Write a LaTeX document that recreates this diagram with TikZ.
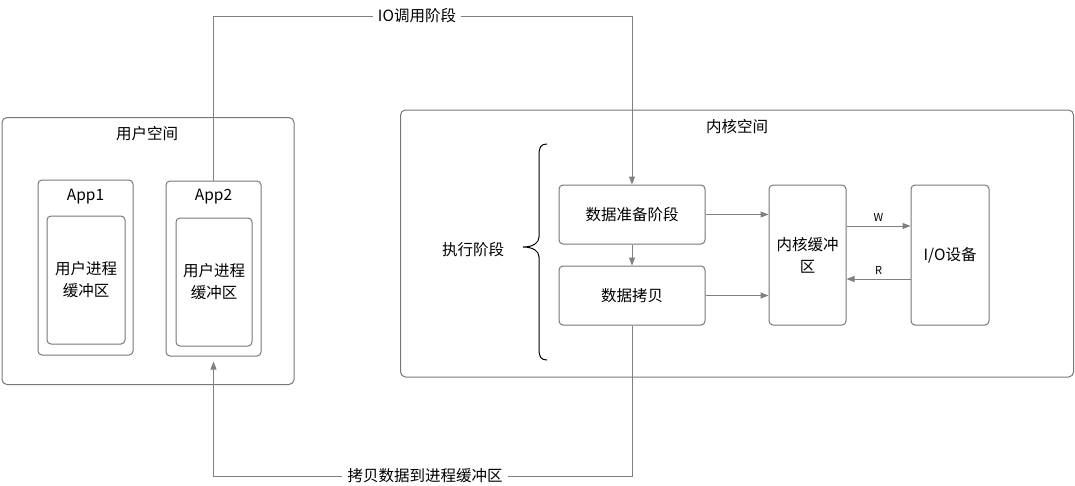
\documentclass[tikz,border=0pt]{standalone}
\usepackage{fontspec}
\setmainfont{Noto Sans CJK SC}
\usetikzlibrary{arrows.meta,positioning}
\definecolor{ink}{HTML}{000000}
\definecolor{edge}{HTML}{777777}
\definecolor{wire}{HTML}{808080}
\tikzset{
  box/.style={draw=edge, rounded corners=4pt, line width=1pt, inner sep=0pt, align=center, font=\fontsize{15.5}{22}\selectfont, text=ink},
  panel/.style={box, rounded corners=5pt},
  title/.style={font=\fontsize{15.5}{18}\selectfont, text=ink},
  note/.style={font=\fontsize{15.5}{18}\selectfont, text=ink, fill=white, inner sep=5pt},
  tiny/.style={font=\fontsize{11}{12}\selectfont, text=ink},
  arrow/.style={-{Triangle[length=8pt,width=6pt]}, line width=1pt, draw=wire},
  wire/.style={line width=1pt, draw=wire}
}

\begin{document}
\begin{tikzpicture}[x=1pt,y=-1pt]
\useasboundingbox (0,0) rectangle (1075,485);
% user space
\node[panel, minimum width=292, minimum height=267] (user) at (148,251) {};
\node[title] (usertitle) at (147,134) {用户空间};
\node[box, minimum width=95, minimum height=175] (app1) at (85.5,267.5) {};
\node[title] (app1lbl) at (85.5,197) {App1};
\node[box, minimum width=78, minimum height=128] (buf1) at (86,280) {用户进程\\缓冲区};
\node[box, minimum width=95, minimum height=175] (app2) at (213.5,268.5) {};
\node[title] (app2lbl) at (213.5,197) {App2};
\node[box, minimum width=76, minimum height=128] (buf2) at (214,282) {用户进程\\缓冲区};
% kernel space
\node[panel, minimum width=673, minimum height=267] (kernel) at (737,243.5) {};
\node[title] (kerneltitle) at (737,127) {内核空间};
\node[box, minimum width=146, minimum height=59] (prep) at (632,214.5) {数据准备阶段};
\node[box, minimum width=146, minimum height=59] (copy) at (632,295.5) {数据拷贝};
\node[box, minimum width=77, minimum height=140] (kbuf) at (807.5,255) {内核缓冲\\区};
\node[box, minimum width=78, minimum height=140] (iodev) at (950,255) {I/O设备};
\node[title] (exec) at (473,250) {执行阶段};
\draw[ink, line width=1pt] (547,144) .. controls (541,144) and (539,147) .. (539,155) -- (539,237)
  .. controls (539,243) and (533,247) .. (523,247) .. controls (533,247) and (539,251) .. (539,257)
  -- (539,349) .. controls (539,357) and (541,360) .. (547,360);
% io call
\node[note] (iolbl) at (417,16) {IO调用阶段};
\draw[wire] (app2.north) |- (iolbl.west);
\draw[arrow] (iolbl.east) -| (prep.north);
% copy back
\node[note] (cplbl) at (425,476) {拷贝数据到进程缓冲区};
\draw[wire] (copy.south) |- (cplbl.east);
\draw[arrow, shorten >=5pt] (cplbl.west) -| (app2.south);
% kernel arrows
\draw[arrow] (prep.east) -- (prep.east -| kbuf.west);
\draw[arrow] (prep.south) -- (copy.north);
\draw[arrow] (copy.east) -- (copy.east -| kbuf.west);
\draw[arrow] (kbuf.east |- 0,226) -- node[tiny, above=1pt] (wlbl) {W} (iodev.west |- 0,226);
\draw[arrow] (iodev.west |- 0,279) -- node[tiny, above=1pt] (rlbl) {R} (kbuf.east |- 0,279);
\end{tikzpicture}
\end{document}
